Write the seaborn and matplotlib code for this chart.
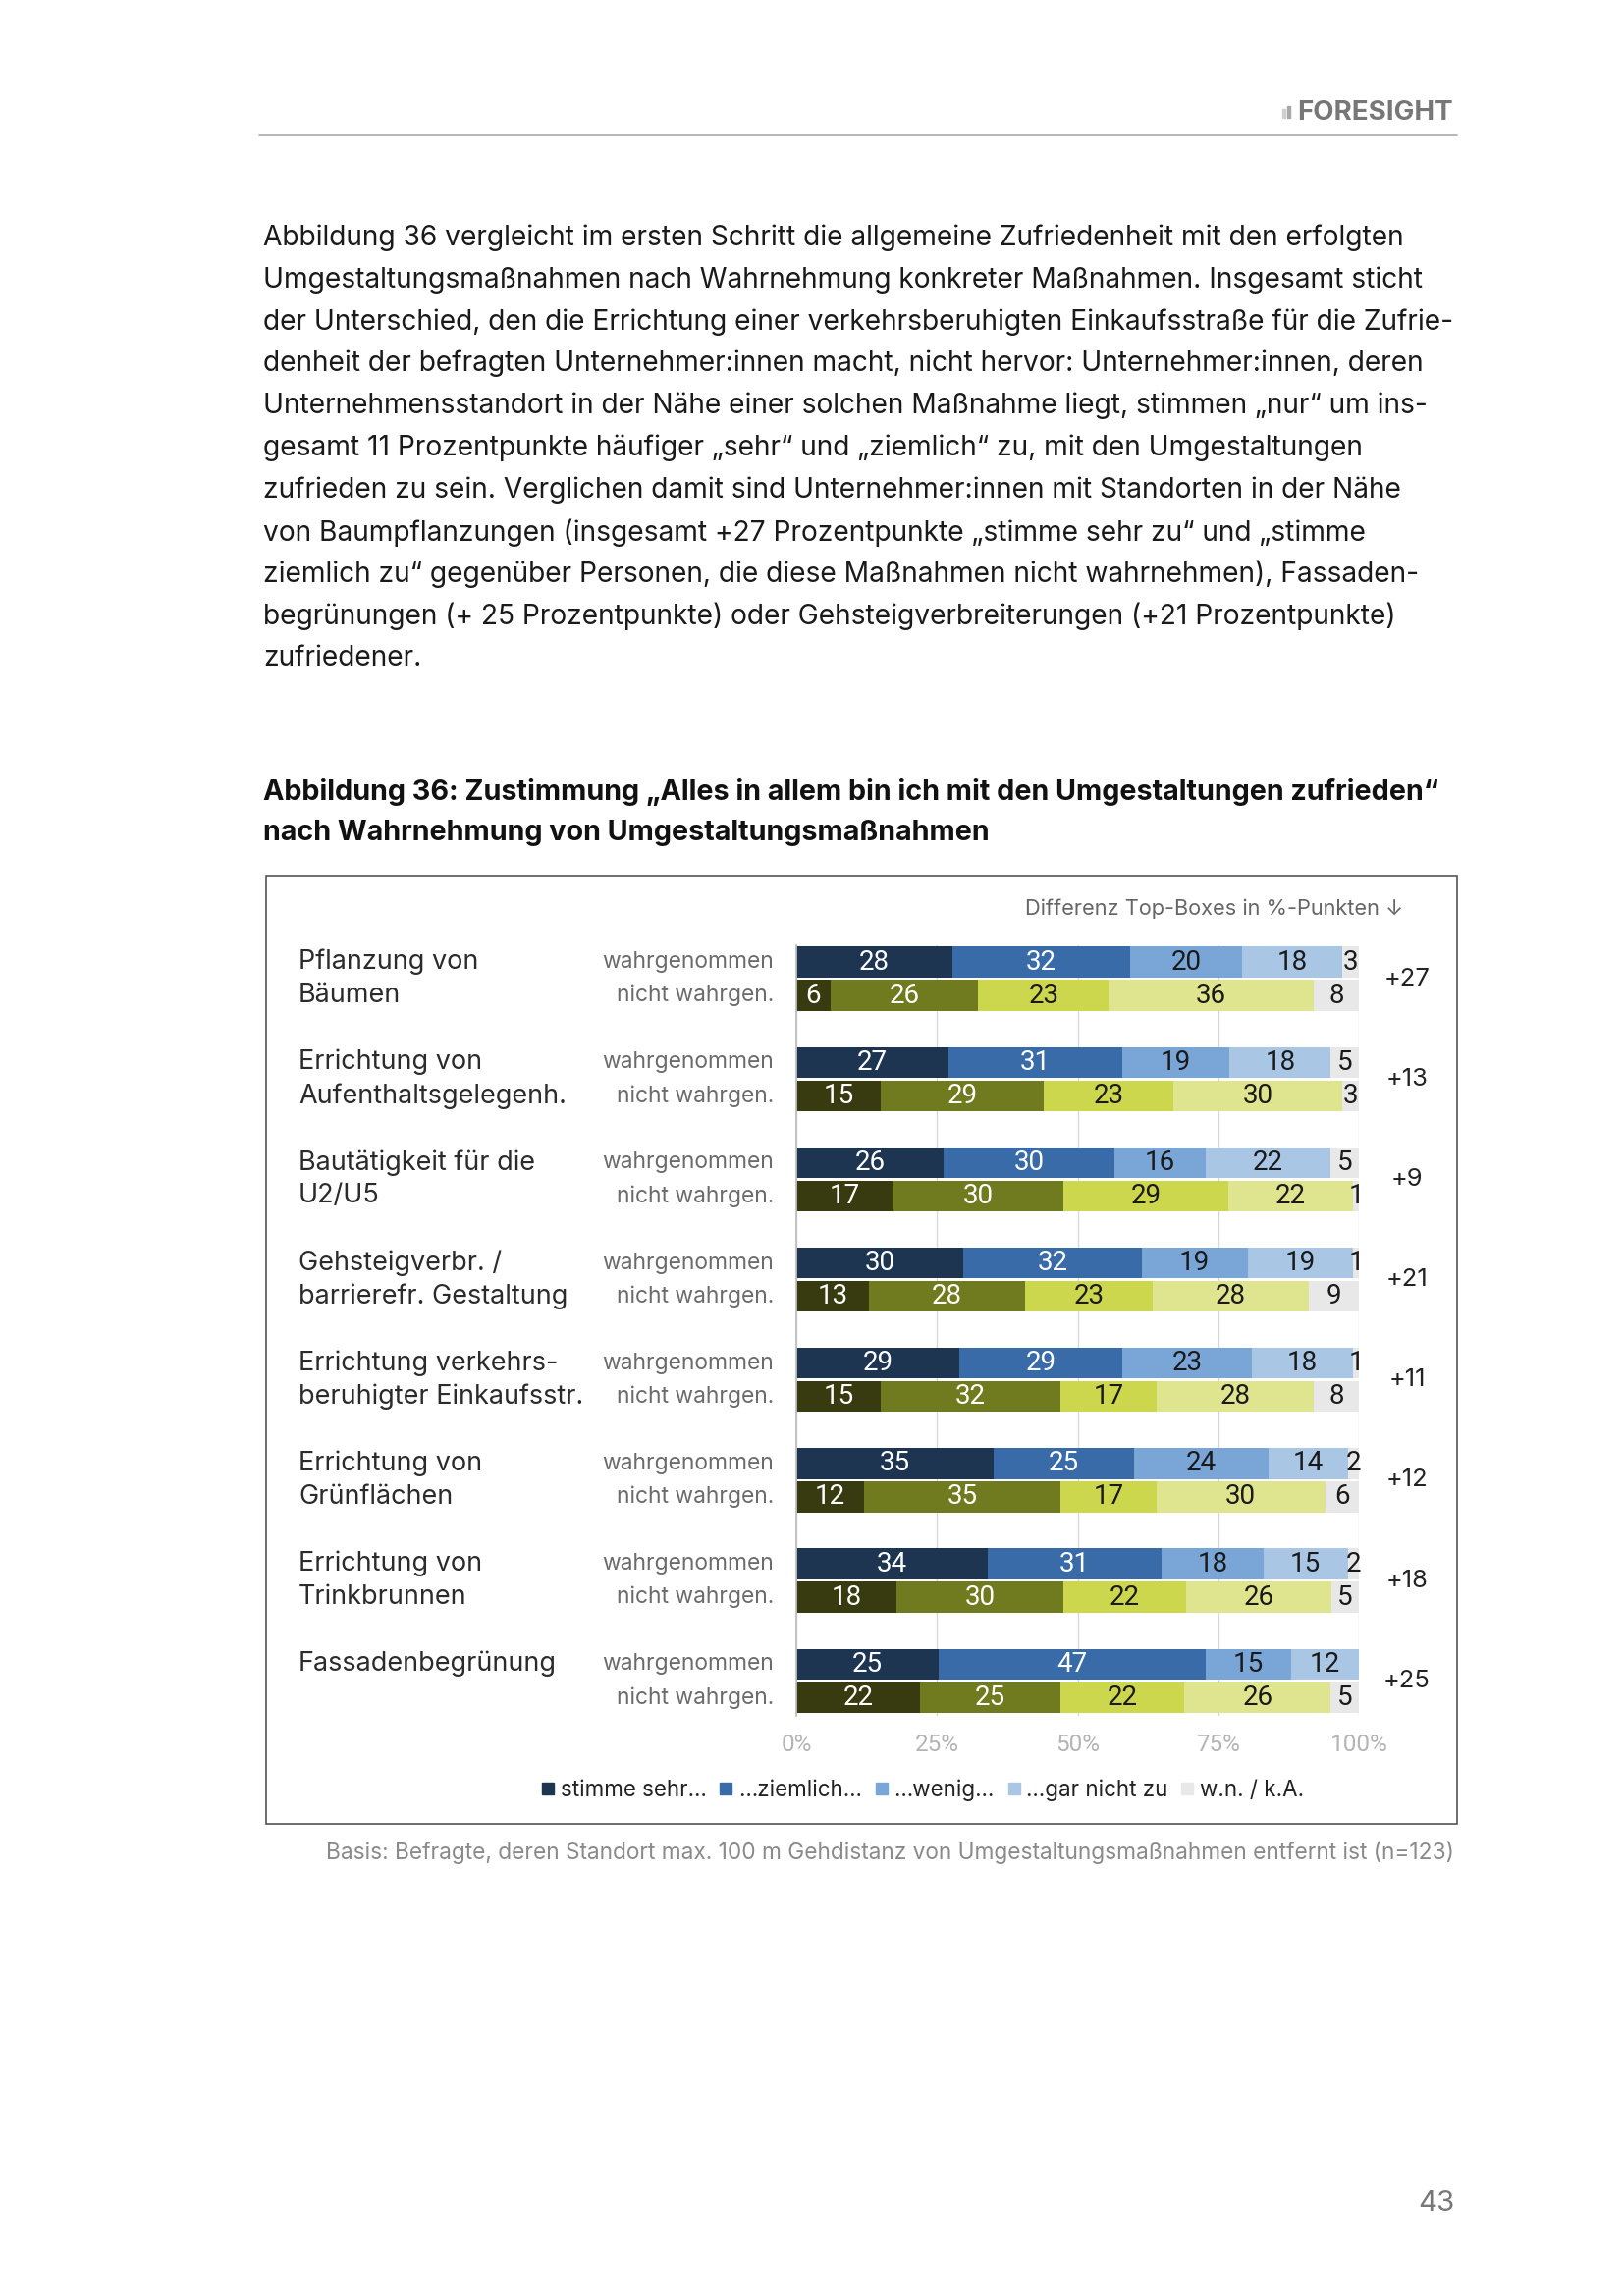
import numpy as np
import pandas as pd
import matplotlib
matplotlib.use("Agg")
import matplotlib.pyplot as plt
import seaborn as sns
from matplotlib.lines import Line2D
from matplotlib.patches import Rectangle
from matplotlib.transforms import blended_transform_factory

# ── data ────────────────────────────────────────────────────────────────
measures = [
    "Pflanzung von\nBäumen",
    "Errichtung von\nAufenthaltsgelegenh.",
    "Bautätigkeit für die\nU2/U5",
    "Gehsteigverbr. /\nbarrierefr. Gestaltung",
    "Errichtung verkehrs-\nberuhigter Einkaufsstr.",
    "Errichtung von\nGrünflächen",
    "Errichtung von\nTrinkbrunnen",
    "Fassadenbegrünung",
]
wahr_sehr      = [28, 27, 26, 30, 29, 35, 34, 25]
wahr_ziemlich  = [32, 31, 30, 32, 29, 25, 31, 47]
wahr_wenig     = [20, 19, 16, 19, 23, 24, 18, 15]
wahr_garnicht  = [18, 18, 22, 19, 18, 14, 15, 12]
wahr_wnka      = [3, 5, 5, 1, 1, 2, 2, 0]
nicht_sehr     = [6, 15, 17, 13, 15, 12, 18, 22]
nicht_ziemlich = [26, 29, 30, 28, 32, 35, 30, 25]
nicht_wenig    = [23, 23, 29, 23, 17, 17, 22, 22]
nicht_garnicht = [36, 30, 22, 28, 28, 30, 26, 26]
nicht_wnka     = [8, 3, 1, 9, 8, 6, 5, 5]
diff_top_boxes = ["+27", "+13", "+9", "+21", "+11", "+12", "+18", "+25"]
answers = ["stimme sehr…", "…ziemlich…", "…wenig…", "…gar nicht zu", "w.n. / k.A."]
row_kinds = ["wahrgenommen", "nicht wahrgen."]
x_ticks = [0, 25, 50, 75, 100]

body_lines = [
    "Abbildung 36 vergleicht im ersten Schritt die allgemeine Zufriedenheit mit den erfolgten",
    "Umgestaltungsmaßnahmen nach Wahrnehmung konkreter Maßnahmen. Insgesamt sticht",
    "der Unterschied, den die Errichtung einer verkehrsberuhigten Einkaufsstraße für die Zufrie-",
    "denheit der befragten Unternehmer:innen macht, nicht hervor: Unternehmer:innen, deren",
    "Unternehmensstandort in der Nähe einer solchen Maßnahme liegt, stimmen „nur“ um ins-",
    "gesamt 11 Prozentpunkte häufiger „sehr“ und „ziemlich“ zu, mit den Umgestaltungen",
    "zufrieden zu sein. Verglichen damit sind Unternehmer:innen mit Standorten in der Nähe",
    "von Baumpflanzungen (insgesamt +27 Prozentpunkte „stimme sehr zu“ und „stimme",
    "ziemlich zu“ gegenüber Personen, die diese Maßnahmen nicht wahrnehmen), Fassaden-",
    "begrünungen (+ 25 Prozentpunkte) oder Gehsteigverbreiterungen (+21 Prozentpunkte)",
    "zufriedener.",
]
title_lines = [
    "Abbildung 36: Zustimmung „Alles in allem bin ich mit den Umgestaltungen zufrieden“",
    "nach Wahrnehmung von Umgestaltungsmaßnahmen",
]
footnote = ("Basis: Befragte, deren Standort max. 100 m Gehdistanz von "
            "Umgestaltungsmaßnahmen entfernt ist (n=123)")

# ── style ───────────────────────────────────────────────────────────────
BLUES  = ["#1E3552", "#386BA8", "#7AA6D7", "#A9C6E5", "#E8E8E8"]
OLIVES = ["#383B10", "#707A1E", "#CDD74D", "#DFE48E", "#E8E8E8"]
TXT_ON = ["white", "white", "#1a1a1a", "#1a1a1a", "#1a1a1a"]
FONT = ["Inter", "DejaVu Sans"]
NUMFONT = ["Roboto", "DejaVu Sans"]

sns.set_style("white")
plt.rcParams["font.family"] = FONT

W, H, DPI = 1654, 2339, 100
fig = plt.figure(figsize=(W / DPI, H / DPI), dpi=DPI)
renderer = fig.canvas.get_renderer()


def fx(x):
    return x / W


def fy(y):
    return 1 - y / H


def fit(text, width_px, family=FONT, weight="normal"):
    t = fig.text(0, 0, text, fontsize=20, family=family, weight=weight)
    w = t.get_window_extent(renderer).width
    t.remove()
    return 20 * width_px / w


# ── page header / text ──────────────────────────────────────────────────
fs_head = fit("FORESIGHT", 159, weight="bold")
fig.text(fx(1480), fy(112), "FORESIGHT", ha="right", va="center_baseline",
         fontsize=fs_head, weight="bold", color="#777777")
fig.patches.append(Rectangle((fx(1306), fy(120)), 3 / W, 9 / H,
                             transform=fig.transFigure, color="#cfcfcf"))
fig.patches.append(Rectangle((fx(1311), fy(120)), 3 / W, 12 / H,
                             transform=fig.transFigure, color="#a8a8a8"))
fig.add_artist(Line2D([fx(264), fx(1484)], [fy(138), fy(138)],
                      color="#b0b0b0", lw=1.3))

fs_body = fit(body_lines[0], 1164)
for i, line in enumerate(body_lines):
    fig.text(fx(268), fy(239 + i * 42.9), line, ha="left", va="center_baseline",
             fontsize=fs_body, color="#1a1a1a")

fs_title = fit(title_lines[0], 1201, weight="bold")
for i, line in enumerate(title_lines):
    fig.text(fx(268), fy(804 + i * 42), line, ha="left", va="center_baseline",
             fontsize=fs_title, weight="bold", color="#111111")

fig.patches.append(Rectangle((fx(271), fy(1858)), (1484 - 271) / W, (1858 - 892) / H,
                             transform=fig.transFigure, fill=False,
                             edgecolor="#555555", lw=1.2))

fs_note = fit(footnote, 1151)
fig.text(fx(1481), fy(1885), footnote, ha="right", va="center_baseline",
         fontsize=fs_note, color="#8a8a8a")
fig.text(fx(1481), fy(2242), "43", ha="right", va="center_baseline",
         fontsize=fs_body * 1.05, color="#777777")

# ── chart data frame ────────────────────────────────────────────────────
wahr = np.array([wahr_sehr, wahr_ziemlich, wahr_wenig, wahr_garnicht, wahr_wnka]).T
nicht = np.array([nicht_sehr, nicht_ziemlich, nicht_wenig, nicht_garnicht, nicht_wnka]).T

records, order = [], []
for i in range(len(measures)):
    for kind, vals in (("w", wahr[i]), ("n", nicht[i])):
        name = f"{i}{kind}"
        share = vals / vals.sum() * 100
        rec = {"row": name, "group": i, "kind": kind}
        for k in range(5):
            rec[f"val{k}"] = vals[k]
            rec[f"share{k}"] = share[k]
            rec[f"cum{k}"] = share[: k + 1].sum()
        records.append(rec)
        order.append(name)
    if i < len(measures) - 1:
        order.append(f"gap{i}")
df = pd.DataFrame(records)
pos = {name: j for j, name in enumerate(order)}

ax = fig.add_axes([fx(811), fy(1748), (1384 - 811) / W, (1748 - 963) / H])
for k in reversed(range(5)):
    pal = {r: (BLUES if kd == "w" else OLIVES)[k] for r, kd in zip(df["row"], df["kind"])}
    sns.barplot(data=df, x=f"cum{k}", y="row", hue="row", order=order,
                palette=pal, orient="h", width=0.92, saturation=1,
                legend=False, linewidth=0, ax=ax)

ax.set_xlim(0, 100)
ax.set_ylim(len(order) - 0.45, -0.5)
ax.set_xticks(x_ticks)
ax.set_xticklabels([f"{t}%" for t in x_ticks])
ax.set_yticks([])
ax.set_xlabel("")
ax.set_ylabel("")
ax.tick_params(axis="x", length=0, pad=13, labelsize=17.5, labelcolor="#b4b4b4")
for lab in ax.get_xticklabels():
    lab.set_family(NUMFONT)
ax.grid(axis="x", color="#d9d9d9", lw=1)
ax.set_axisbelow(True)
for side in ("top", "right", "bottom"):
    ax.spines[side].set_visible(False)
ax.spines["left"].set_color("#bfbfbf")
ax.spines["left"].set_linewidth(1.3)

# segment labels
for _, r in df.iterrows():
    y = pos[r["row"]]
    start = 0.0
    for k in range(5):
        v = r[f"val{k}"]
        s = r[f"share{k}"]
        if v > 0:
            ax.text(start + s / 2, y, f"{v}", ha="center", va="center",
                    fontsize=20, family=NUMFONT, color=TXT_ON[k])
        start += s

# row labels and differences
tr = blended_transform_factory(fig.transFigure, ax.transData)
fs_cat = fit("Aufenthaltsgelegenh.", 272)
fs_kind = fit("wahrgenommen", 175)
for i, m in enumerate(measures):
    y_top = pos[f"{i}w"]
    y_bot = pos[f"{i}n"]
    for j, part in enumerate(m.split("\n")):
        ax.text(fx(304), [y_top, y_bot][j], part, transform=tr, ha="left",
                va="center", fontsize=fs_cat, color="#2b2b2b")
    for kind, yy in zip(row_kinds, (y_top, y_bot)):
        ax.text(fx(788), yy, kind, transform=tr, ha="right", va="center",
                fontsize=fs_kind, color="#6b6b6b")
    ax.text(fx(1433), (y_top + y_bot) / 2, diff_top_boxes[i], transform=tr,
            ha="center", va="center", fontsize=fs_kind * 1.12, color="#222222")

hdr = "Differenz Top-Boxes in %-Punkten ↓"
fig.text(fx(1429), fy(926), hdr, ha="right", va="center",
         fontsize=fit(hdr, 386), color="#666666")

# legend
handles = [Line2D([], [], marker="s", ls="", markersize=8, color=c) for c in BLUES]
fig.legend(handles, answers, loc="center", bbox_to_anchor=(fx(940), fy(1824)),
           ncol=5, frameon=False, handlelength=0.55, handletextpad=0.3,
           columnspacing=0.6, fontsize=fs_kind * 0.98, labelcolor="#222222")

fig.savefig("out.png", dpi=DPI, facecolor="white")
